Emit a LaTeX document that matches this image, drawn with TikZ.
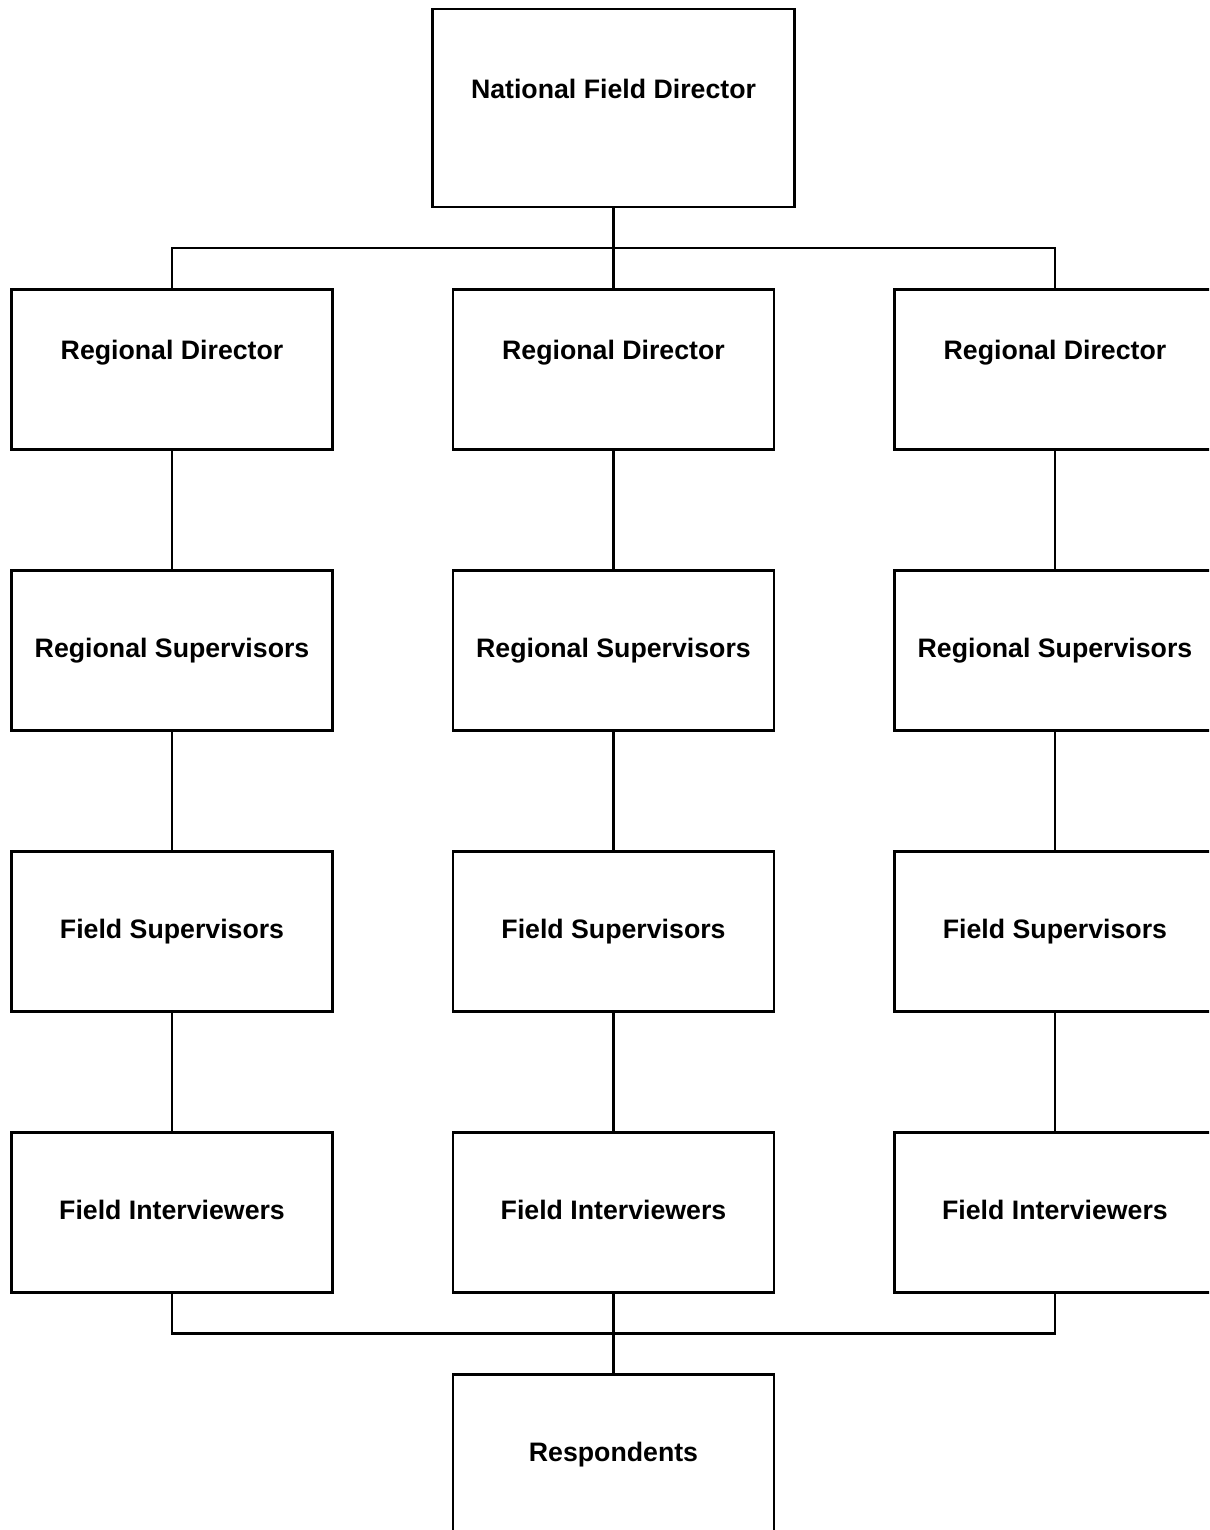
\documentclass[tikz,border=0pt]{standalone}
\usepackage{fontspec}
\setmainfont{Liberation Sans}
\usepackage{tikz}
\usetikzlibrary{
    positioning,
    calc
}
\tikzstyle{unit} = [
    rectangle,
    draw=black,
    line width=1.4pt,
    fill=white,
    minimum width=6.42cm,
    minimum height=3.2cm,
    text height=11pt,
    text depth=3pt,
    align=center,
    font=\fontsize{15.2}{18}\selectfont\bfseries
]
\tikzstyle{raised} = [
    text depth=3pt+0.68cm
]
\tikzstyle{link} = [
    line width=1.4pt,
    draw=black
]

\begin{document}
\begin{tikzpicture}[node distance=2.37cm]
    \useasboundingbox (0,0) rectangle (24.18,-30.6);
    \clip (0,0) rectangle (24.18,-30.6);

    % Top of the hierarchy
    \node[unit, raised, minimum width=7.24cm, minimum height=3.96cm] (natdir) at (12.27,-2.16) {National Field Director};

    % Middle column
    \node[unit, raised, below=1.6cm of natdir] (regdir2) {Regional Director};
    \node[unit, below=of regdir2] (regsup2) {Regional Supervisors};
    \node[unit, below=of regsup2] (fieldsup2) {Field Supervisors};
    \node[unit, below=of fieldsup2] (fieldint2) {Field Interviewers};
    \node[unit, below=1.59cm of fieldint2] (resp) {Respondents};

    % Left column
    \node[unit, raised, left=2.36cm of regdir2] (regdir1) {Regional Director};
    \node[unit, below=of regdir1] (regsup1) {Regional Supervisors};
    \node[unit, below=of regsup1] (fieldsup1) {Field Supervisors};
    \node[unit, below=of fieldsup1] (fieldint1) {Field Interviewers};

    % Right column
    \node[unit, raised, right=2.36cm of regdir2] (regdir3) {Regional Director};
    \node[unit, below=of regdir3] (regsup3) {Regional Supervisors};
    \node[unit, below=of regsup3] (fieldsup3) {Field Supervisors};
    \node[unit, below=of fieldsup3] (fieldint3) {Field Interviewers};

    % Buses
    \coordinate (topbus) at ($(natdir.south)!0.5!(regdir2.north)$);
    \coordinate (lowbus) at ($(fieldint2.south)!0.5!(resp.north)$);

    % Lines
    \draw[link] (natdir.south) -- (regdir2.north);
    \draw[link] (regdir1.north) |- (topbus) -| (regdir3.north);
    \foreach \c in {1,2,3} {
        \draw[link] (regdir\c) -- (regsup\c);
        \draw[link] (regsup\c) -- (fieldsup\c);
        \draw[link] (fieldsup\c) -- (fieldint\c);
    }
    \draw[link] (fieldint1.south) |- (lowbus) -| (fieldint3.south);
    \draw[link] (fieldint2.south) -- (resp.north);
\end{tikzpicture}
\end{document}
